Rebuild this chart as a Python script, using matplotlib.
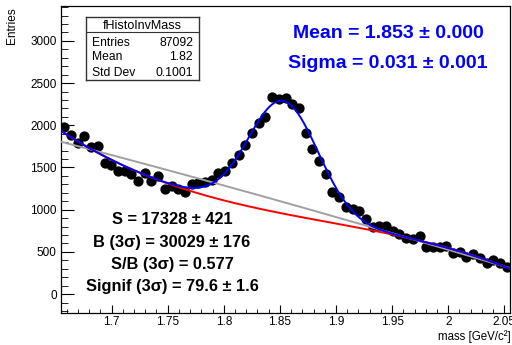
import numpy as np
import matplotlib
matplotlib.use("Agg")
import matplotlib.pyplot as plt
from matplotlib.ticker import MultipleLocator

# histogram: 67 bins between 1.655 and 2.055
mass_lo, mass_hi, nbins = 1.655, 2.055, 67
counts = [1984, 1890, 1787, 1870, 1748, 1760, 1555, 1524, 1464, 1453,
          1417, 1338, 1437, 1338, 1400, 1244, 1284, 1248, 1205, 1299,
          1315, 1326, 1355, 1433, 1453, 1551, 1653, 1768, 1910, 2031,
          2096, 2335, 2315, 2327, 2252, 2209, 1910, 1721, 1571, 1425,
          1205, 1154, 1033, 1004, 980, 886, 791, 803, 803, 750,
          706, 670, 655, 685, 559, 555, 555, 570, 481, 500,
          441, 472, 425, 363, 402, 370, 319]

# fit results
gaus_mean = 1.853
gaus_sigma = 0.031
gaus_amp = 1335
bkg_x = [1.6523, 1.7414, 1.770, 1.8234, 1.933, 1.972, 2.0016, 2.055]
bkg_y = [1957, 1346, 1237, 1019, 776, 638, 520, 307]
# sideband background (grey curve)
side_x = [1.6568, 1.8323, 1.8474, 2.055]
side_y = [1799, 1169, 1110, 307]

W, H = 512, 345
fig = plt.figure(figsize=(W / 100, H / 100), dpi=100)
ax = fig.add_axes([61 / W, 32 / H, 449 / W, 307 / H])

width = (mass_hi - mass_lo) / nbins
centers = mass_lo + (np.arange(nbins) + 0.5) * width
counts = np.array(counts)

ax.errorbar(centers, counts, yerr=np.sqrt(counts), fmt='o', color='black',
            ms=6.4, elinewidth=1, capsize=0, zorder=2)

xx = np.linspace(mass_lo, mass_hi, 400)
bkg = np.polyval(np.polyfit(bkg_x, bkg_y, 3), xx)
side = np.polyval(np.polyfit(side_x, side_y, 2), xx)
tot = bkg + gaus_amp * np.exp(-0.5 * ((xx - gaus_mean) / gaus_sigma) ** 2)

ax.plot(xx, side, color='#a0a0a0', lw=1.4, zorder=3)
ax.plot(xx, bkg, color='#ff0000', lw=1.4, zorder=4)
ax.plot(xx, tot, color='#0000ff', lw=1.4, zorder=5)

ax.set_xlim(mass_lo, mass_hi)
ax.set_ylim(-224, 3413)
ax.xaxis.set_minor_locator(MultipleLocator(0.01))
ax.yaxis.set_minor_locator(MultipleLocator(100))
ax.set_xticks(np.arange(1.7, 2.051, 0.05))
ax.set_xticklabels(['1.7', '1.75', '1.8', '1.85', '1.9', '1.95', '2', '2.05'])
ax.set_yticks(np.arange(0, 3001, 500))
ax.tick_params(axis='both', which='both', direction='in', labelsize=8.5,
               top=False, right=False)
ax.tick_params(axis='y', which='major', length=9.5, pad=3)
ax.tick_params(axis='y', which='minor', length=5)
ax.tick_params(axis='x', which='major', length=6, pad=2.5)
ax.tick_params(axis='x', which='minor', length=3)
for lab in ax.get_xticklabels() + ax.get_yticklabels():
    lab.set_family('Liberation Sans')
for s in ax.spines.values():
    s.set_linewidth(0.9)

def px(x, y):
    return x / W, 1 - y / H

fig.text(*px(12, 7), 'Entries', rotation=90, ha='center', va='top',
         fontsize=8.5, family='Liberation Sans')
fig.text(*px(511, 337), 'mass [GeV/c\u00b2]', ha='right', va='center',
         fontsize=8.3, family='Liberation Sans')

# stats box
bx0, by0, bx1, by1 = 86, 17, 199, 80
bh = by1 - by0
ax_box = fig.add_axes([bx0 / W, 1 - by1 / H, (bx1 - bx0) / W, bh / H])
ax_box.set_xlim(0, bx1 - bx0)
ax_box.set_ylim(bh, 0)
ax_box.set_xticks([])
ax_box.set_yticks([])
for s in ax_box.spines.values():
    s.set_linewidth(1.0)
    s.set_color('#333333')
ax_box.axhline(15, color='#333333', lw=0.8)
ax_box.text((bx1 - bx0) / 2, 9, 'fHistoInvMass', ha='center', va='center',
            fontsize=9, family='Liberation Sans')
rows = [('Entries', '87092'), ('Mean', '1.82'), ('Std Dev', '0.1001')]
for i, (k, v) in enumerate(rows):
    yy = 25.5 + i * 15
    ax_box.text(6, yy, k, ha='left', va='center', fontsize=8.7, family='Liberation Sans')
    ax_box.text(bx1 - bx0 - 6, yy, v, ha='right', va='center', fontsize=8.7,
                family='Liberation Sans')

bold = dict(fontweight='bold', family='Liberation Sans', ha='center', va='center')
fig.text(*px(388, 33), 'Mean = 1.853 \u00b1 0.000', color='#0000ff', fontsize=14, **bold)
fig.text(*px(388, 63), 'Sigma = 0.031 \u00b1 0.001', color='#0000ff', fontsize=14, **bold)

left_lines = ['S = 17328 \u00b1 421',
              'B (3\u03c3) = 30029 \u00b1 176',
              'S/B (3\u03c3) = 0.577',
              'Signif (3\u03c3) = 79.6 \u00b1 1.6']
for i, t in enumerate(left_lines):
    fig.text(*px(172, 220 + i * 22.3), t, color='black', fontsize=11.8, **bold)

fig.savefig('out.png', dpi=100)
